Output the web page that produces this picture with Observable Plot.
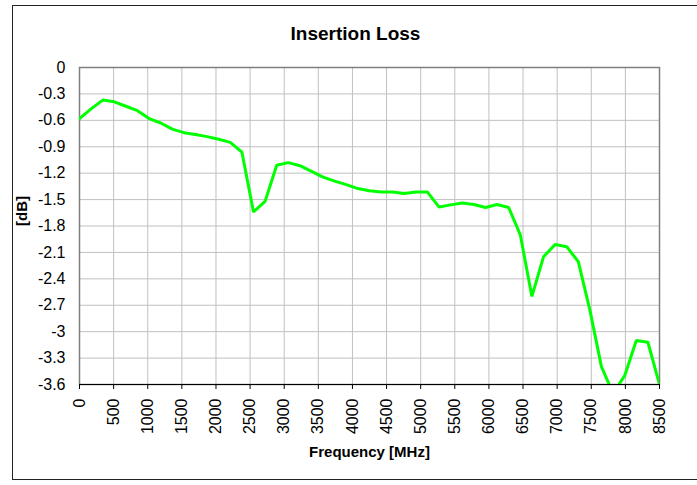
<!DOCTYPE html>
<html>
<head>
<meta charset="utf-8">
<script src="https://cdn.jsdelivr.net/npm/d3@7"></script>
<script src="https://cdn.jsdelivr.net/npm/@observablehq/plot@0.6"></script>
<style>
  html, body { margin: 0; padding: 0; background: #fff; }
  #wrap { position: relative; width: 697px; height: 485px; overflow: hidden; font-family: "Liberation Sans", Arial, sans-serif; }
  #border { position: absolute; left: 12px; top: 5px; width: 720px; height: 475px; border: 1.5px solid #222; box-sizing: border-box; pointer-events: none; }
  #chart { position: absolute; left: 0; top: 0; }
</style>
</head>
<body>
<div id="wrap"><div id="chart"></div><div id="border"></div></div>
<script>
const title = "Insertion Loss";
const xLabel = "Frequency [MHz]";
const yLabel = "[dB]";
const frequency = [0,170,340,510,680,850,1020,1190,1360,1530,1700,1870,2040,2210,2380,2550,2720,2890,3060,3230,3400,3570,3740,3910,4080,4250,4420,4590,4760,4930,5100,5270,5440,5610,5780,5950,6120,6290,6460,6630,6800,6970,7140,7310,7480,7650,7820,7990,8160,8330,8500];
const loss = [-0.58,-0.47,-0.37,-0.39,-0.44,-0.49,-0.58,-0.63,-0.70,-0.74,-0.76,-0.785,-0.815,-0.85,-0.96,-1.64,-1.52,-1.11,-1.08,-1.115,-1.18,-1.245,-1.29,-1.33,-1.375,-1.40,-1.415,-1.415,-1.43,-1.415,-1.415,-1.585,-1.56,-1.54,-1.555,-1.59,-1.555,-1.59,-1.90,-2.60,-2.15,-2.01,-2.035,-2.205,-2.755,-3.40,-3.70,-3.50,-3.10,-3.12,-3.60];
const xTicks = [0,500,1000,1500,2000,2500,3000,3500,4000,4500,5000,5500,6000,6500,7000,7500,8000,8500];
const yTicks = [0,-0.3,-0.6,-0.9,-1.2,-1.5,-1.8,-2.1,-2.4,-2.7,-3,-3.3,-3.6];

const data = frequency.map((f, i) => ({f, v: loss[i]}));

const chart = Plot.plot({
  width: 697,
  height: 485,
  marginLeft: 79,
  marginRight: 38,
  marginTop: 67,
  marginBottom: 101,
  style: {fontFamily: "'Liberation Sans', Arial, sans-serif", fontSize: "16px", color: "#000", background: "transparent"},
  x: {domain: [0, 8500]},
  y: {domain: [-3.6, 0]},
  marks: [
    Plot.gridX(xTicks, {stroke: "#c0c0c0", strokeOpacity: 1, strokeWidth: 1}),
    Plot.gridY(yTicks, {stroke: "#c0c0c0", strokeOpacity: 1, strokeWidth: 1}),
    Plot.frame({stroke: "#808080", strokeWidth: 1.5}),
    Plot.ruleY([-3.6], {stroke: "#000", strokeWidth: 1.2}),
    Plot.axisX({ticks: xTicks, tickRotate: -90, tickSize: 5, tickPadding: 9, label: null, tickFormat: d => String(d), fontSize: 16, stroke: "#000"}),
    Plot.axisY({ticks: yTicks, tickSize: 0, tickPadding: 14, label: null, tickFormat: d => String(d).replace("−", "-"), fontSize: 16}),
    Plot.line(data, {x: "f", y: "v", stroke: "#00ff00", strokeWidth: 3, clip: true, strokeLinejoin: "miter"}),
    Plot.text([title], {frameAnchor: "top", lineAnchor: "middle", dx: -14, dy: -34, fontSize: 19, fontWeight: "bold", fill: "#000"}),
    Plot.text([xLabel], {frameAnchor: "bottom", lineAnchor: "middle", dy: 68, fontSize: 15, fontWeight: "bold", fill: "#000"}),
    Plot.text([yLabel], {frameAnchor: "left", lineAnchor: "middle", dx: -57, rotate: -90, fontSize: 15, fontWeight: "bold", fill: "#000"})
  ]
});
document.getElementById("chart").appendChild(chart);
</script>
</body>
</html>
